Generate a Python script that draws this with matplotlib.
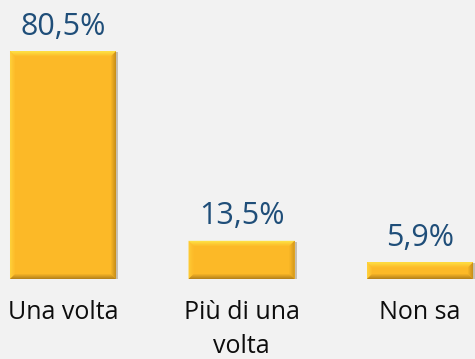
import matplotlib.pyplot as plt
from matplotlib.colors import to_rgb
from matplotlib.patches import Polygon
from matplotlib.transforms import IdentityTransform

categories = ['Una volta', 'Più di una\nvolta', 'Non sa']
values = [80.5, 13.5, 5.9]
value_labels = ['80,5%', '13,5%', '5,9%']

plt.rcParams['font.family'] = ['Open Sans', 'DejaVu Sans']

fig = plt.figure(figsize=(4.75, 3.59), dpi=100, facecolor='#f2f2f2')
ax = fig.add_axes([0, 80 / 359, 1, 279 / 359])
ax.set_facecolor('#f2f2f2')

x = list(range(len(values)))
base = '#fcb927'
bars = ax.bar(x, values, width=0.594, color=base, edgecolor='none', zorder=2)

ax.set_xlim(-0.353, 2.308)
ax.set_ylim(0, 98.6)

fig.canvas.draw()


def mix(c1, c2, t):
    a, b = to_rgb(c1), to_rgb(c2)
    return tuple(a[i] + (b[i] - a[i]) * t for i in range(3))


# soft bevel: strips fading from the edge colour into the base colour
edge_cols = {'top': '#ffe84a', 'left': '#ffcf3a', 'right': '#c9901a', 'bottom': '#b9841a'}
bevel = 5
for bar in bars:
    (x0, y0), (x1, y1) = ax.transData.transform(
        [(bar.get_x(), bar.get_y()), (bar.get_x() + bar.get_width(), bar.get_height())])
    b = min(bevel, (y1 - y0) / 2)
    # faint shadow to the right and below
    ax.add_patch(Polygon([(x0 + 1, y0 - 1), (x1 + 2, y0 - 1), (x1 + 2, y1 - 1), (x0 + 1, y1 - 1)],
                         closed=True, facecolor='#c6c0b4', edgecolor='none',
                         transform=IdentityTransform(), zorder=1))
    n = 5
    for k in range(n):
        o = b * k / n
        i = b * (k + 1) / n
        t = k / n
        faces = [
            ([(x0 + o, y1 - o), (x1 - o, y1 - o), (x1 - i, y1 - i), (x0 + i, y1 - i)], 'top'),
            ([(x0 + o, y0 + o), (x0 + o, y1 - o), (x0 + i, y1 - i), (x0 + i, y0 + i)], 'left'),
            ([(x1 - o, y0 + o), (x1 - o, y1 - o), (x1 - i, y1 - i), (x1 - i, y0 + i)], 'right'),
            ([(x0 + o, y0 + o), (x1 - o, y0 + o), (x1 - i, y0 + i), (x0 + i, y0 + i)], 'bottom'),
        ]
        for pts, side in faces:
            ax.add_patch(Polygon(pts, closed=True, facecolor=mix(edge_cols[side], base, t),
                                 edgecolor='none', transform=IdentityTransform(), zorder=3))

for bar, lab in zip(bars, value_labels):
    ax.annotate(lab, (bar.get_x() + bar.get_width() / 2, bar.get_height()),
                xytext=(0, 12), textcoords='offset points', ha='center',
                va='baseline', fontsize=22, color='#1f4e79')

ax.set_xticks(x)
ax.set_xticklabels(categories, fontsize=18, color='#0d0d0d', linespacing=1.5)
ax.tick_params(axis='x', length=0, pad=15)
ax.set_yticks([])
for s in ax.spines.values():
    s.set_visible(False)

fig.savefig('out.png', dpi=100, facecolor=fig.get_facecolor())
